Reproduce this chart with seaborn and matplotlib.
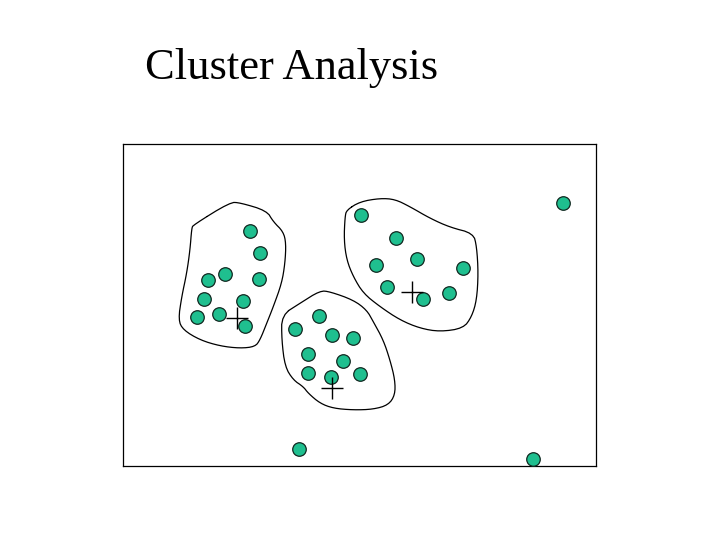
import matplotlib
matplotlib.use("Agg")
import matplotlib.pyplot as plt
import seaborn as sns
import pandas as pd
import numpy as np

# Points (x, y in a frame whose y axis runs downward)
c1_x = [250.0, 260.3, 207.7, 224.7, 259.0, 204.0, 243.3, 196.7, 219.3, 245.3]
c1_y = [230.7, 253.3, 280.0, 274.3, 278.7, 299.0, 301.0, 316.7, 314.0, 325.7]
c2_x = [318.7, 294.7, 331.7, 352.7, 308.3, 343.0, 307.7, 331.3, 360.0]
c2_y = [316.0, 328.7, 335.3, 338.3, 354.3, 361.0, 373.0, 377.3, 374.3]
c3_x = [360.7, 396.0, 376.0, 416.7, 463.3, 387.3, 422.7, 449.3]
c3_y = [215.0, 237.7, 265.0, 259.3, 268.3, 287.3, 299.3, 293.3]
out_x = [562.7, 299.3, 532.7]
out_y = [203.3, 449.3, 459.0]

# Centroids
cent_x = [236.7, 332.3, 412.3]
cent_y = [318.3, 388.3, 292.0]

# Cluster outlines
b1_x = [193.3, 230.0, 240.0, 266.7, 273.3, 283.3, 286.0, 285.0, 281.7, 273.3, 266.7,
        260.0, 255.0, 240.0, 220.0, 200.0, 183.3, 178.3, 181.7, 186.7, 190.0, 191.7]
b1_y = [225.0, 202.3, 202.7, 210.7, 221.7, 231.7, 243.3, 263.3, 283.3, 306.7, 323.3,
        340.0, 346.7, 348.3, 346.0, 340.0, 330.0, 320.0, 296.7, 273.3, 250.0, 228.3]
b2_x = [281.7, 300.0, 320.0, 330.0, 353.3, 366.7, 373.3, 383.3, 390.0, 395.0, 395.0,
        388.3, 373.3, 353.3, 333.3, 320.0, 308.3, 303.3, 293.3, 285.0, 281.7]
b2_y = [315.0, 303.3, 290.7, 291.7, 300.0, 310.0, 321.7, 340.0, 360.0, 380.0, 395.0,
        405.0, 409.3, 410.0, 408.3, 403.3, 393.3, 386.7, 380.0, 366.7, 340.0]
b3_x = [346.7, 360.0, 380.0, 395.0, 410.0, 430.0, 450.0, 473.3, 476.7, 478.3, 476.7,
        471.7, 463.3, 440.0, 420.0, 400.0, 380.0, 363.3, 353.3, 346.7, 344.0, 345.0]
b3_y = [210.0, 201.7, 198.3, 199.3, 206.7, 218.3, 227.3, 233.3, 246.7, 273.3, 300.0,
        316.7, 328.3, 331.7, 328.3, 320.0, 306.7, 293.3, 276.7, 260.0, 240.0, 216.7]


def chaikin_closed(xs, ys, n_iter=2):
    p = np.column_stack([xs, ys]).astype(float)
    for _ in range(n_iter):
        q = np.roll(p, -1, axis=0)
        p = np.column_stack([0.75 * p + 0.25 * q, 0.25 * p + 0.75 * q]).reshape(-1, 2)
    p = np.vstack([p, p[:1]])
    return p[:, 0], p[:, 1]


sns.set_style("white")
plt.rcParams["font.family"] = ["Liberation Serif", "DejaVu Serif"]

fig = plt.figure(figsize=(7.2, 5.4), dpi=100)
ax = fig.add_axes([123 / 720, 1 - 466 / 540, 473 / 720, 322 / 540])

pts = pd.DataFrame({
    "x": c1_x + c2_x + c3_x + out_x,
    "y": c1_y + c2_y + c3_y + out_y,
})

for bx, by in [(b1_x, b1_y), (b2_x, b2_y), (b3_x, b3_y)]:
    sx, sy = chaikin_closed(bx, by)
    ax.plot(sx, sy, color="black", lw=0.9, solid_joinstyle="round")

sns.scatterplot(data=pts, x="x", y="y", ax=ax, s=95, color="#1FBF8F",
                edgecolor="#102820", linewidth=0.9, zorder=3)
sns.scatterplot(x=cent_x, y=cent_y, ax=ax, marker="+", s=260, color="black",
                linewidth=1.0, zorder=4)

ax.set_xlim(123, 596)
ax.set_ylim(466, 144)
ax.set_xticks([])
ax.set_yticks([])
ax.set_xlabel("")
ax.set_ylabel("")
for sp in ax.spines.values():
    sp.set_color("black")
    sp.set_linewidth(0.9)

fig.text(145 / 720, 1 - 79 / 540, "Cluster Analysis", fontsize=32,
         ha="left", va="baseline", color="black")

fig.savefig("out.png", dpi=100)
